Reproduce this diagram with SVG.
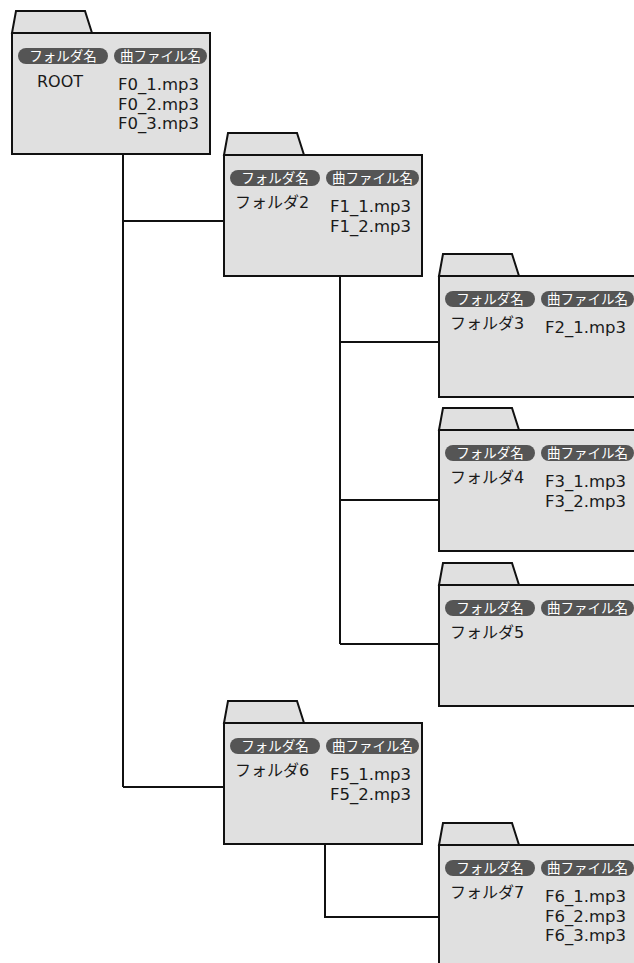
<svg xmlns="http://www.w3.org/2000/svg" width="634" height="963" viewBox="0 0 634 963">
<style>
.bg{fill:#ffffff}
.tab,.body{fill:#e0e0e0;stroke:#111;stroke-width:2;stroke-linejoin:miter}
.pill{fill:#555555}
.pt{font-family:"Noto Sans CJK JP",sans-serif;font-size:13.5px;fill:#ffffff;text-anchor:middle}
.fn{font-family:"DejaVu Sans","Noto Sans CJK JP",sans-serif;font-size:16px;fill:#1a1a1a;text-anchor:middle}
.mp{font-family:"DejaVu Sans",sans-serif;font-size:16.5px;fill:#1a1a1a}
.conn{fill:none;stroke:#111;stroke-width:2}
</style>
<defs>
<g id="folder">
<path class="tab" d="M0,0 L4,-22 L73,-22 L80,0 Z"/>
<rect class="body" x="0" y="0" width="198" height="121"/>
<rect class="pill" x="6" y="15" width="90" height="16" rx="8"/>
<rect class="pill" x="102" y="15" width="93" height="16" rx="8"/>
<text class="pt" x="51" y="28">フォルダ名</text>
<text class="pt" x="148.5" y="28">曲ファイル名</text>
</g>
</defs>
<rect class="bg" x="0" y="0" width="634" height="963"/>
<g id="connectors">
<path class="conn" d="M123,155 V787 M123,221 H224 M123,787 H224"/>
<path class="conn" d="M340,276 V644 M340,342 H439 M340,500 H439 M340,644 H439"/>
<path class="conn" d="M325,844 V917 H439"/>
</g>
<g id="root" transform="translate(12,33)">
<use href="#folder"/>
<text class="fn" x="48" y="54">ROOT</text>
<text class="mp" x="106" y="57">F0_1.mp3</text>
<text class="mp" x="106" y="76.5">F0_2.mp3</text>
<text class="mp" x="106" y="96">F0_3.mp3</text>
</g>
<g id="folder2" transform="translate(224,155)">
<use href="#folder"/>
<text class="fn" x="48" y="53">フォルダ2</text>
<text class="mp" x="106" y="57">F1_1.mp3</text>
<text class="mp" x="106" y="76.5">F1_2.mp3</text>
</g>
<g id="folder3" transform="translate(439,276)">
<use href="#folder"/>
<text class="fn" x="48" y="53">フォルダ3</text>
<text class="mp" x="106" y="57">F2_1.mp3</text>
</g>
<g id="folder4" transform="translate(439,430)">
<use href="#folder"/>
<text class="fn" x="48" y="53">フォルダ4</text>
<text class="mp" x="106" y="57">F3_1.mp3</text>
<text class="mp" x="106" y="76.5">F3_2.mp3</text>
</g>
<g id="folder5" transform="translate(439,585)">
<use href="#folder"/>
<text class="fn" x="48" y="53">フォルダ5</text>
</g>
<g id="folder6" transform="translate(224,723)">
<use href="#folder"/>
<text class="fn" x="48" y="53">フォルダ6</text>
<text class="mp" x="106" y="57">F5_1.mp3</text>
<text class="mp" x="106" y="76.5">F5_2.mp3</text>
</g>
<g id="folder7" transform="translate(439,845)">
<use href="#folder"/>
<text class="fn" x="48" y="53">フォルダ7</text>
<text class="mp" x="106" y="57">F6_1.mp3</text>
<text class="mp" x="106" y="76.5">F6_2.mp3</text>
<text class="mp" x="106" y="96">F6_3.mp3</text>
</g>
</svg>
